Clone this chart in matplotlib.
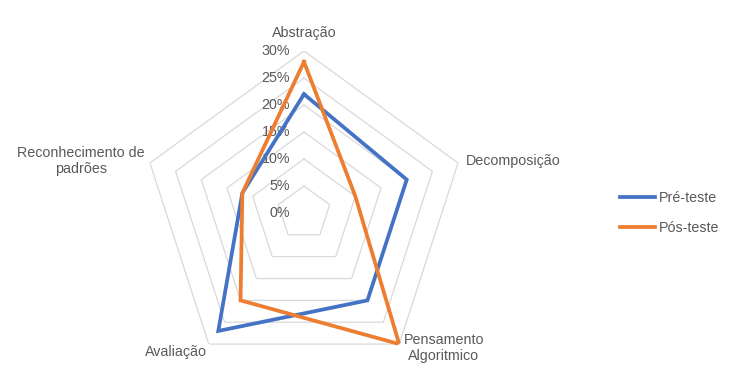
import numpy as np
import matplotlib
matplotlib.use("Agg")
import matplotlib.pyplot as plt
from matplotlib.transforms import offset_copy

categories = ["Abstração", "Decomposição", "Pensamento\nAlgoritmico", "Avaliação", "Reconhecimento de\npadrões"]
pre_teste = [22, 20, 20, 27, 12]
pos_teste = [28, 10, 30, 20, 12]
levels = [0, 5, 10, 15, 20, 25, 30]
level_labels = ["0%", "5%", "10%", "15%", "20%", "25%", "30%"]

W, H = 732, 384
plt.rcParams['font.family'] = ['Liberation Sans', 'DejaVu Sans']
fig = plt.figure(figsize=(W / 100, H / 100), dpi=100)

cx, cy, R = 304, 213, 162
ax = fig.add_axes([(cx - R) / W, (H - cy - R) / H, 2 * R / W, 2 * R / H], projection='polar')
ax.set_theta_offset(np.pi / 2)
ax.set_theta_direction(-1)
ax.set_ylim(0, 30)
ax.set_xticks([])
ax.set_yticks([])
ax.grid(False)
ax.spines['polar'].set_visible(False)
ax.patch.set_visible(False)

n = len(categories)
theta = np.linspace(0, 2 * np.pi, n, endpoint=False)
theta_c = np.append(theta, theta[0])

for lv in levels[1:]:
    ax.plot(theta_c, [lv] * (n + 1), color='#d9d9d9', lw=0.9, zorder=1)

txt_color = '#595959'
fs = 10.3
tr = offset_copy(ax.transData, fig=fig, x=-14, y=0, units='dots')
for lv, lab in zip(levels, level_labels):
    ax.text(0, lv, lab, transform=tr, ha='right', va='center', fontsize=fs, color=txt_color, zorder=2)

ax.plot(theta_c, pre_teste + pre_teste[:1], color='#4472C4', lw=2.7, label='Pré-teste', zorder=3, solid_joinstyle='miter')
ax.plot(theta_c, pos_teste + pos_teste[:1], color='#ED7D31', lw=2.7, label='Pós-teste', zorder=4, solid_joinstyle='miter')

# category labels (pixel positions)
label_pos = [(304, 33, 'center'), (466, 161, 'left'), (444, 348, 'center'), (176, 352, 'center'), (81, 161, 'center')]
for cat, (x, y, ha) in zip(categories, label_pos):
    fig.text(x / W, 1 - y / H, cat, ha=ha, va='center', fontsize=fs, color=txt_color, multialignment='center', linespacing=1.25)

leg = fig.legend(loc='center left', bbox_to_anchor=(607 / W, 1 - 213 / H), frameon=False,
                 fontsize=fs, handlelength=2.45, handletextpad=0.3, labelspacing=1.1)
for t in leg.get_texts():
    t.set_color(txt_color)

fig.savefig('out.png', dpi=100)
